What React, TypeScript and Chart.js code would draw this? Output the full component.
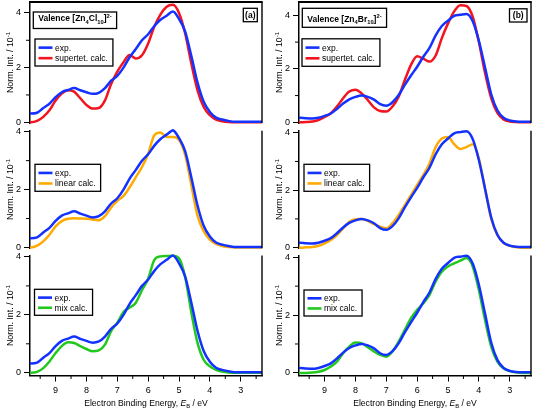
import React, { useEffect, useRef } from 'react';
import { Chart, registerables } from 'chart.js';

Chart.register(...registerables);

const FONT = "'Liberation Sans', Arial, Helvetica, sans-serif";

// Electron binding energy grid (eV)
const energies = [10.0, 9.8, 9.6, 9.4, 9.2, 9.0, 8.8, 8.6, 8.4, 8.2, 8.0, 7.8, 7.6, 7.4, 7.2, 7.0, 6.8, 6.6, 6.4, 6.2, 6.0, 5.8, 5.6, 5.4, 5.2, 5.0, 4.8, 4.6, 4.4, 4.2, 4.0, 3.8, 3.6, 3.4, 3.2, 3.0, 2.8, 2.6, 2.4, 2.2];

// [Zn4Cl10]2- spectra
const expCl = [0.32, 0.32, 0.35, 0.52, 0.68, 0.92, 1.1, 1.18, 1.25, 1.17, 1.1, 1.04, 1.08, 1.25, 1.52, 1.7, 2.0, 2.38, 2.68, 3.0, 3.22, 3.52, 3.75, 3.9, 4.05, 3.78, 3.32, 2.42, 1.45, 0.75, 0.38, 0.17, 0.1, 0.05, 0.02, 0.02, 0.02, 0.02, 0.02, 0.02];
const supertetCl = [0, 0, 0.05, 0.2, 0.44, 0.8, 1.05, 1.17, 1.12, 0.88, 0.63, 0.5, 0.52, 0.8, 1.4, 1.85, 2.2, 2.46, 2.33, 2.45, 2.88, 3.5, 3.95, 4.23, 4.3, 4.0, 3.25, 2.15, 1.17, 0.56, 0.26, 0.1, 0.04, 0.01, 0, 0, 0, 0, 0, 0];
const linearCl = [0, 0, 0.06, 0.21, 0.44, 0.73, 0.91, 0.99, 1.01, 1.0, 0.99, 0.97, 0.94, 1.08, 1.38, 1.61, 1.78, 2.08, 2.43, 2.78, 3.24, 3.88, 3.97, 3.82, 3.82, 3.72, 3.2, 2.15, 1.1, 0.56, 0.27, 0.12, 0.05, 0.02, 0, 0, 0, 0, 0, 0];
const mixCl = [0, 0, 0.03, 0.16, 0.39, 0.68, 0.92, 1.05, 1.03, 0.92, 0.82, 0.74, 0.77, 0.97, 1.44, 1.73, 2.1, 2.25, 2.42, 2.85, 3.25, 3.9, 4.02, 4.03, 4.04, 3.95, 3.3, 2.08, 1.03, 0.45, 0.22, 0.1, 0.04, 0.01, 0, 0, 0, 0, 0, 0];

// [Zn4Br10]2- spectra
const expBr = [0.17, 0.17, 0.15, 0.14, 0.17, 0.24, 0.33, 0.5, 0.7, 0.86, 0.95, 1.0, 0.95, 0.85, 0.68, 0.62, 0.75, 1.02, 1.4, 1.75, 2.08, 2.45, 2.78, 3.25, 3.6, 3.8, 3.98, 4.02, 4.05, 3.78, 3.05, 2.05, 1.05, 0.45, 0.17, 0.07, 0.03, 0.02, 0.02, 0.02];
const supertetBr = [0, 0, 0.01, 0.03, 0.08, 0.2, 0.34, 0.59, 0.9, 1.15, 1.22, 1.08, 0.83, 0.56, 0.42, 0.4, 0.59, 0.96, 1.58, 2.15, 2.47, 2.38, 2.27, 2.5, 3.15, 3.7, 4.15, 4.38, 4.35, 3.95, 3.0, 1.85, 0.9, 0.35, 0.11, 0.03, 0.01, 0, 0, 0];
const linearBr = [0, 0, 0.01, 0.02, 0.06, 0.15, 0.27, 0.44, 0.67, 0.9, 0.99, 1.0, 0.93, 0.82, 0.73, 0.67, 0.85, 1.14, 1.48, 1.83, 2.18, 2.53, 2.93, 3.5, 3.8, 3.85, 3.6, 3.43, 3.5, 3.6, 3.1, 2.05, 1.0, 0.44, 0.17, 0.06, 0.02, 0, 0, 0];
const mixBr = [0, 0, 0, 0.01, 0.04, 0.1, 0.22, 0.39, 0.68, 0.91, 1.05, 1.03, 0.89, 0.74, 0.62, 0.56, 0.74, 1.08, 1.49, 1.89, 2.18, 2.41, 2.7, 3.16, 3.5, 3.68, 3.79, 3.88, 3.97, 3.68, 2.87, 1.83, 0.91, 0.39, 0.16, 0.06, 0.02, 0, 0, 0];

const yMajorTicks = [0, 2, 4];
const yMinorTicks = [1, 3];
const xMajorTicks = [9, 8, 7, 6, 5, 4, 3];
const xMinorTicks = [9.5, 8.5, 7.5, 6.5, 5.5, 4.5, 3.5, 2.5];
const X_MIN = 2.31;
const X_MAX = 9.83;

const BLUE = '#1432ff';
const RED = '#f2141e';
const ORANGE = '#ffaa00';
const GREEN = '#22c81e';

type Seg = { t: string; k?: 'sub' | 'sup'; it?: boolean };

const yTitle: Seg[] = [{ t: 'Norm. Int. / 10' }, { t: '-1', k: 'sup' }];
const xTitle: Seg[] = [{ t: 'Electron Binding Energy, ' }, { t: 'E', it: true }, { t: 'B', k: 'sub' }, { t: ' / eV' }];
const titleCl: Seg[] = [{ t: 'Valence [Zn' }, { t: '4', k: 'sub' }, { t: 'Cl' }, { t: '10', k: 'sub' }, { t: ']' }, { t: '2-', k: 'sup' }];
const titleBr: Seg[] = [{ t: 'Valence [Zn' }, { t: '4', k: 'sub' }, { t: 'Br' }, { t: '10', k: 'sub' }, { t: ']' }, { t: '2-', k: 'sup' }];

function fontFor(size: number, bold: boolean, italic?: boolean) {
  return `${italic ? 'italic ' : ''}${bold ? 'bold ' : ''}${size}px ${FONT}`;
}

function richWidth(ctx: CanvasRenderingContext2D, segs: Seg[], size: number, bold: boolean) {
  let w = 0;
  for (const s of segs) {
    const sz = s.k ? size * 0.68 : size;
    ctx.font = fontFor(sz, bold, s.it);
    w += ctx.measureText(s.t).width;
  }
  return w;
}

function drawRich(ctx: CanvasRenderingContext2D, segs: Seg[], x: number, baseline: number, size: number, bold: boolean, align: 'left' | 'center') {
  const total = richWidth(ctx, segs, size, bold);
  let cx = align === 'center' ? x - total / 2 : x;
  ctx.textAlign = 'left';
  ctx.textBaseline = 'alphabetic';
  for (const s of segs) {
    const sz = s.k ? size * 0.68 : size;
    ctx.font = fontFor(sz, bold, s.it);
    const dy = s.k === 'sub' ? size * 0.28 : s.k === 'sup' ? -size * 0.42 : 0;
    ctx.fillText(s.t, cx, baseline + dy);
    cx += ctx.measureText(s.t).width;
  }
  return total;
}

type Panel = {
  col: number;
  row: number;
  exp: number[];
  calc: number[];
  calcLabel: string;
  calcColor: string;
  yMax: number;
  yMin: number;
  legend: { x: number; y: number; h: number };
  title?: Seg[];
  titleBox?: { x: number; y: number; h: number; base: number };
  tag?: string;
  tagBox?: { x: number; y: number; w: number; h: number };
};

const colLeft = [30, 299];
const colRight = [262, 531];
const rowTop = [2, 130.7, 255.5];
const rowBottom = [123, 248.2, 375.5];
const X_AXIS_H = 22;

const panels: Panel[] = [
  { col: 0, row: 0, exp: expCl, calc: supertetCl, calcLabel: 'supertet. calc.', calcColor: RED, yMax: 4.4, yMin: -0.026,
    legend: { x: 35, y: 39, h: 27 }, title: titleCl, titleBox: { x: 33.3, y: 12, h: 16.5, base: 9.2 }, tag: '(a)', tagBox: { x: 243.3, y: 8.3, w: 14, h: 13.4 } },
  { col: 0, row: 1, exp: expCl, calc: linearCl, calcLabel: 'linear calc.', calcColor: ORANGE, yMax: 4.035, yMin: -0.025,
    legend: { x: 35, y: 164.3, h: 27 } },
  { col: 0, row: 2, exp: expCl, calc: mixCl, calcLabel: 'mix calc.', calcColor: GREEN, yMax: 4.05, yMin: -0.095,
    legend: { x: 34.5, y: 289.3, h: 26 } },
  { col: 1, row: 0, exp: expBr, calc: supertetBr, calcLabel: 'supertet. calc.', calcColor: RED, yMax: 4.5, yMin: -0.026,
    legend: { x: 302, y: 38.8, h: 27.5 }, title: titleBr, titleBox: { x: 302.3, y: 8.3, h: 19, base: 13.2 }, tag: '(b)', tagBox: { x: 509.5, y: 8.8, w: 17.5, h: 13.2 } },
  { col: 1, row: 1, exp: expBr, calc: linearBr, calcLabel: 'linear calc.', calcColor: ORANGE, yMax: 4.07, yMin: -0.02,
    legend: { x: 304, y: 164.3, h: 27 } },
  { col: 1, row: 2, exp: expBr, calc: mixBr, calcLabel: 'mix calc.', calcColor: GREEN, yMax: 4.06, yMin: -0.09,
    legend: { x: 304, y: 290, h: 26 } },
];

function strokeLine(ctx: CanvasRenderingContext2D, x1: number, y1: number, x2: number, y2: number) {
  ctx.beginPath();
  ctx.moveTo(x1, y1);
  ctx.lineTo(x2, y2);
  ctx.stroke();
}

function decorPlugin(p: Panel) {
  return {
    id: 'decor',
    afterDraw(chart: any) {
      const ctx: CanvasRenderingContext2D = chart.ctx;
      const a = chart.chartArea;
      const ys = chart.scales.y;
      const xs = chart.scales.x;
      const isBottom = p.row === 2;
      ctx.save();
      ctx.strokeStyle = '#000';
      ctx.fillStyle = '#000';
      // frame: right border (and top border for first row)
      ctx.lineWidth = 1.4;
      strokeLine(ctx, a.right, a.top, a.right, a.bottom);
      if (p.row === 0) {
        ctx.lineWidth = 2;
        strokeLine(ctx, a.left - 0.7, a.top, a.right + 0.7, a.top);
      }
      // minor ticks
      ctx.lineWidth = 1;
      for (const v of yMinorTicks) {
        const py = ys.getPixelForValue(v);
        strokeLine(ctx, a.left - 4, py, a.left, py);
      }
      if (isBottom) {
        for (const v of xMinorTicks) {
          const px = xs.getPixelForValue(v);
          if (px >= a.left && px <= a.right) strokeLine(ctx, px, a.bottom, px, a.bottom + 3.5);
        }
      }
      // y title
      ctx.save();
      ctx.translate(a.left - 20, (a.top + a.bottom) / 2);
      ctx.rotate(-Math.PI / 2);
      drawRich(ctx, yTitle, 0, 3.2, 8.8, false, 'center');
      ctx.restore();
      // x title
      if (isBottom) {
        drawRich(ctx, xTitle, (a.left + a.right) / 2, 406, 8.6, false, 'center');
      }
      // legend box
      const lg = p.legend;
      const items = [
        { label: 'exp.', color: BLUE },
        { label: p.calcLabel, color: p.calcColor },
      ];
      ctx.font = fontFor(8.5, false);
      let tw = 0;
      for (const it of items) tw = Math.max(tw, ctx.measureText(it.label).width);
      const lw = 20 + tw + 5;
      ctx.fillStyle = '#fff';
      ctx.fillRect(lg.x, lg.y, lw, lg.h);
      ctx.lineWidth = 1.3;
      ctx.strokeStyle = '#000';
      ctx.strokeRect(lg.x, lg.y, lw, lg.h);
      items.forEach((it, i) => {
        const cy = lg.y + lg.h * (i === 0 ? 0.32 : 0.71);
        ctx.strokeStyle = it.color;
        ctx.lineWidth = 2.6;
        strokeLine(ctx, lg.x + 3.5, cy, lg.x + 17.5, cy);
        ctx.fillStyle = '#000';
        ctx.font = fontFor(8.5, false);
        ctx.textAlign = 'left';
        ctx.textBaseline = 'alphabetic';
        ctx.fillText(it.label, lg.x + 20, cy + 3);
      });
      // title box
      if (p.title && p.titleBox) {
        const tb = p.titleBox;
        const w = richWidth(ctx, p.title, 8.5, true) + 10;
        ctx.fillStyle = '#fff';
        ctx.fillRect(tb.x, tb.y, w, tb.h);
        ctx.strokeStyle = '#000';
        ctx.lineWidth = 1.3;
        ctx.strokeRect(tb.x, tb.y, w, tb.h);
        ctx.fillStyle = '#000';
        drawRich(ctx, p.title, tb.x + 5, tb.y + tb.base, 8.5, true, 'left');
      }
      if (p.tag && p.tagBox) {
        const g = p.tagBox;
        ctx.fillStyle = '#fff';
        ctx.fillRect(g.x, g.y, g.w, g.h);
        ctx.strokeStyle = '#000';
        ctx.lineWidth = 1.3;
        ctx.strokeRect(g.x, g.y, g.w, g.h);
        ctx.fillStyle = '#000';
        ctx.font = fontFor(8.5, true);
        ctx.textAlign = 'center';
        ctx.textBaseline = 'alphabetic';
        ctx.fillText(p.tag, g.x + g.w / 2, g.y + g.h / 2 + 3);
      }
      ctx.restore();
    },
  };
}

function makeConfig(p: Panel): any {
  const isBottom = p.row === 2;
  const padLeft = colLeft[p.col] - 30;
  const padRight = 534 - colRight[p.col];
  const padTop = rowTop[p.row];
  const padBottom = isBottom ? 409 - rowBottom[p.row] - X_AXIS_H : 409 - rowBottom[p.row];
  const toPts = (arr: number[]) => energies.map((e, i) => ({ x: e, y: arr[i] }));
  const ds = (label: string, arr: number[], color: string) => ({
    label,
    data: toPts(arr),
    borderColor: color,
    backgroundColor: color,
    borderWidth: 2.5,
    pointRadius: 0,
    fill: false,
    cubicInterpolationMode: 'monotone',
    clip: { left: 0, right: 0, top: 3, bottom: 3 },
  });
  return {
    type: 'line',
    data: {
      datasets: [ds('exp.', p.exp, BLUE), ds(p.calcLabel, p.calc, p.calcColor)],
    },
    options: {
      animation: false,
      responsive: false,
      devicePixelRatio: 1,
      events: [],
      layout: { autoPadding: false, padding: { left: padLeft, right: padRight, top: padTop, bottom: padBottom } },
      plugins: { legend: { display: false }, tooltip: { enabled: false }, title: { display: false } },
      scales: {
        x: {
          type: 'linear',
          reverse: true,
          min: X_MIN,
          max: X_MAX,
          display: isBottom,
          position: 'bottom',
          afterBuildTicks: (s: any) => { s.ticks = xMajorTicks.map((v) => ({ value: v })); },
          afterFit: (s: any) => {
            s.height = isBottom ? X_AXIS_H : 0;
            s.paddingLeft = 0; s.paddingRight = 0; s.paddingTop = 0; s.paddingBottom = 0;
          },
          grid: { display: true, drawOnChartArea: false, drawTicks: true, tickLength: 6, color: '#000', lineWidth: 1 },
          border: { display: true, color: '#000', width: 1.5 },
          ticks: { color: '#000', font: { family: FONT, size: 9 }, padding: 3.5, maxRotation: 0, autoSkip: false, callback: (v: any) => String(v) },
        },
        y: {
          type: 'linear',
          min: p.yMin,
          max: p.yMax,
          position: 'left',
          afterBuildTicks: (s: any) => { s.ticks = yMajorTicks.map((v) => ({ value: v })); },
          afterFit: (s: any) => { s.width = 30; s.paddingLeft = 0; s.paddingRight = 0; s.paddingTop = 0; s.paddingBottom = 0; },
          grid: { display: true, drawOnChartArea: false, drawTicks: true, tickLength: 6, color: '#000', lineWidth: 1 },
          border: { display: true, color: '#000', width: 1.5 },
          ticks: { color: '#000', font: { family: FONT, size: 9 }, padding: 3, callback: (v: any) => String(v) },
        },
      },
    },
    plugins: [decorPlugin(p)],
  };
}

function PanelCanvas({ p }: { p: Panel }) {
  const ref = useRef<HTMLCanvasElement | null>(null);
  useEffect(() => {
    if (!ref.current) return;
    const chart = new Chart(ref.current, makeConfig(p));
    return () => chart.destroy();
  }, [p]);
  return (
    <canvas
      ref={ref}
      width={534}
      height={409}
      style={{ position: 'absolute', left: 0, top: 0, width: 534, height: 409 }}
    />
  );
}

export default function App() {
  return (
    <div style={{ position: 'fixed', left: 0, top: 0, width: 534, height: 409, background: '#fff', overflow: 'hidden' }}>
      {panels.map((p, i) => (
        <PanelCanvas key={i} p={p} />
      ))}
    </div>
  );
}
